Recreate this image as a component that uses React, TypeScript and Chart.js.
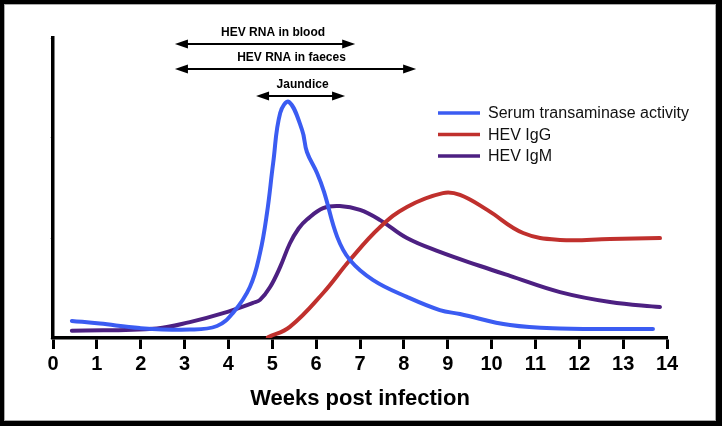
import React, { useEffect, useRef } from 'react';
import { Chart, registerables } from 'chart.js';

Chart.register(...registerables);

// ---- data ----
const seriesLabels = ['Serum transaminase activity', 'HEV IgG', 'HEV IgM'];
const seriesColors = ['#3b5cf2', '#c0302d', '#4d2082'];

const serumWeeks = [0.43, 1.07, 1.98, 3.12, 3.74, 4.1, 4.49, 4.72, 4.88, 5.02, 5.18, 5.38, 5.68, 5.79, 6.02, 6.18, 6.48, 6.77, 7.3, 8.07, 8.82, 9.28, 10.42, 11.56, 13.68];
const serumValues = [5.7, 4.8, 3.3, 2.8, 4.0, 8.3, 17.0, 28.3, 41.7, 58.3, 75.0, 78.7, 69.3, 62.0, 55.0, 48.7, 33.7, 26.0, 19.3, 13.7, 9.3, 8.0, 4.3, 3.2, 3.0];

const iggWeeks = [4.9, 5.4, 6.16, 6.77, 7.46, 8.07, 8.89, 9.28, 9.9, 10.72, 11.56, 12.7, 13.84];
const iggValues = [0.2, 3.7, 15.0, 26.0, 37.0, 43.7, 48.3, 47.7, 42.7, 35.0, 32.7, 33.0, 33.3];

const igmWeeks = [0.43, 2.37, 3.12, 3.88, 4.56, 4.72, 4.95, 5.18, 5.4, 5.6, 5.79, 6.16, 6.54, 7.0, 7.46, 8.07, 8.82, 9.74, 10.42, 11.56, 12.7, 13.84];
const igmValues = [2.4, 3.2, 5.3, 8.3, 11.7, 12.7, 17.0, 23.7, 31.5, 36.5, 39.5, 43.3, 44.0, 42.7, 39.3, 33.3, 28.7, 24.0, 20.7, 15.3, 12.0, 10.3];

const weekTickLabels = ['0', '1', '2', '3', '4', '5', '6', '7', '8', '9', '10', '11', '12', '13', '14'];
const xTitle = 'Weeks post infection';

const arrowLabels = ['HEV RNA in blood', 'HEV RNA in faeces', 'Jaundice'];
const arrowStartWeeks = [2.78, 2.78, 4.63];
const arrowEndWeeks = [6.89, 8.28, 6.66];

const FONT = "'Liberation Sans', Arial, Helvetica, sans-serif";

const toPoints = (xs: number[], ys: number[]) => xs.map((x, i) => ({ x, y: ys[i] }));

const annotationPlugin = {
  id: 'annotations',
  afterDraw(chart: any) {
    const { ctx } = chart;
    const xs = chart.scales.x;
    ctx.save();
    // arrows
    const arrowY = [44, 69, 96];
    const labelShift = [8, -4, 2];
    ctx.fillStyle = '#000';
    ctx.strokeStyle = '#000';
    arrowLabels.forEach((label, i) => {
      const x1 = xs.getPixelForValue(arrowStartWeeks[i]);
      const x2 = xs.getPixelForValue(arrowEndWeeks[i]);
      const y = arrowY[i];
      const hl = 13;
      const hw = 4.5;
      ctx.lineWidth = 2;
      ctx.beginPath();
      ctx.moveTo(x1 + hl - 2, y);
      ctx.lineTo(x2 - hl + 2, y);
      ctx.stroke();
      ctx.beginPath();
      ctx.moveTo(x1, y);
      ctx.lineTo(x1 + hl, y - hw);
      ctx.lineTo(x1 + hl, y + hw);
      ctx.closePath();
      ctx.fill();
      ctx.beginPath();
      ctx.moveTo(x2, y);
      ctx.lineTo(x2 - hl, y - hw);
      ctx.lineTo(x2 - hl, y + hw);
      ctx.closePath();
      ctx.fill();
      ctx.font = `bold 12px ${FONT}`;
      ctx.textAlign = 'center';
      ctx.textBaseline = 'middle';
      ctx.fillText(label, (x1 + x2) / 2 + labelShift[i], y - 11);
    });
    // legend
    chart.data.datasets.forEach((ds: any, i: number) => {
      const y = 113 + i * 21.5;
      ctx.strokeStyle = ds.borderColor;
      ctx.lineWidth = 3.5;
      ctx.lineCap = 'butt';
      ctx.beginPath();
      ctx.moveTo(438, y);
      ctx.lineTo(480, y);
      ctx.stroke();
      ctx.fillStyle = '#111';
      ctx.font = `16px ${FONT}`;
      ctx.textAlign = 'left';
      ctx.textBaseline = 'middle';
      ctx.fillText(ds.label, 488, y + 1);
    });
    // frame
    const W = chart.width;
    const H = chart.height;
    ctx.fillStyle = '#000';
    ctx.fillRect(0, 0, W, 4);
    ctx.fillRect(0, 0, 4, H);
    ctx.fillRect(W - 6, 0, 6, H);
    ctx.fillRect(0, H - 5, W, 5);
    ctx.strokeStyle = '#aaa';
    ctx.lineWidth = 1;
    ctx.strokeRect(4.5, 4.5, W - 11, H - 10);
    ctx.restore();
  },
};

export default function App() {
  const canvasRef = useRef<HTMLCanvasElement | null>(null);

  useEffect(() => {
    document.body.style.margin = '0';
    const canvas = canvasRef.current;
    if (!canvas) return;
    Chart.defaults.font.family = FONT;
    const common = {
      borderWidth: 4,
      pointRadius: 0,
      pointHoverRadius: 0,
      fill: false,
      tension: 0.4,
      borderCapStyle: 'round' as const,
      borderJoinStyle: 'round' as const,
    };
    const chart = new Chart(canvas, {
      type: 'line',
      data: {
        datasets: [
          { label: seriesLabels[0], data: toPoints(serumWeeks, serumValues), borderColor: seriesColors[0], ...common },
          { label: seriesLabels[1], data: toPoints(iggWeeks, iggValues), borderColor: seriesColors[1], ...common },
          { label: seriesLabels[2], data: toPoints(igmWeeks, igmValues), borderColor: seriesColors[2], ...common },
        ],
      },
      options: {
        responsive: false,
        animation: false,
        devicePixelRatio: 1,
        layout: { padding: { top: 38, right: 55, left: 0, bottom: 0 } },
        plugins: { legend: { display: false }, tooltip: { enabled: false } },
        scales: {
          x: {
            type: 'linear',
            min: 0,
            max: 14,
            ticks: {
              stepSize: 1,
              autoSkip: false,
              maxRotation: 0,
              padding: 5,
              color: '#000',
              font: { family: FONT, size: 20, weight: 'bold', lineHeight: 1 },
              callback: (v: any) => weekTickLabels[Number(v)] ?? '',
            },
            grid: { display: true, drawOnChartArea: false, tickLength: 11, tickWidth: 3, tickColor: '#000' },
            border: { display: true, color: '#000', width: 3.5 },
            title: {
              display: true,
              text: xTitle,
              color: '#000',
              font: { family: FONT, size: 22, weight: 'bold', lineHeight: 1 },
              padding: { top: 0, bottom: 16 },
            },
            afterFit: (s: any) => {
              s.height = 88;
            },
          },
          y: {
            min: 0,
            max: 100,
            ticks: { display: false, stepSize: 100 / 3 },
            grid: { display: true, drawOnChartArea: false, tickLength: 3, tickWidth: 1, tickColor: '#cfcfcf' },
            border: { display: true, color: '#000', width: 3.5 },
            afterFit: (s: any) => {
              s.width = 53;
            },
          },
        },
      },
      plugins: [annotationPlugin],
    });
    return () => chart.destroy();
  }, []);

  return (
    <div style={{ width: 722, height: 426, background: '#fff' }}>
      <canvas ref={canvasRef} width={722} height={426} style={{ display: 'block' }} />
    </div>
  );
}
